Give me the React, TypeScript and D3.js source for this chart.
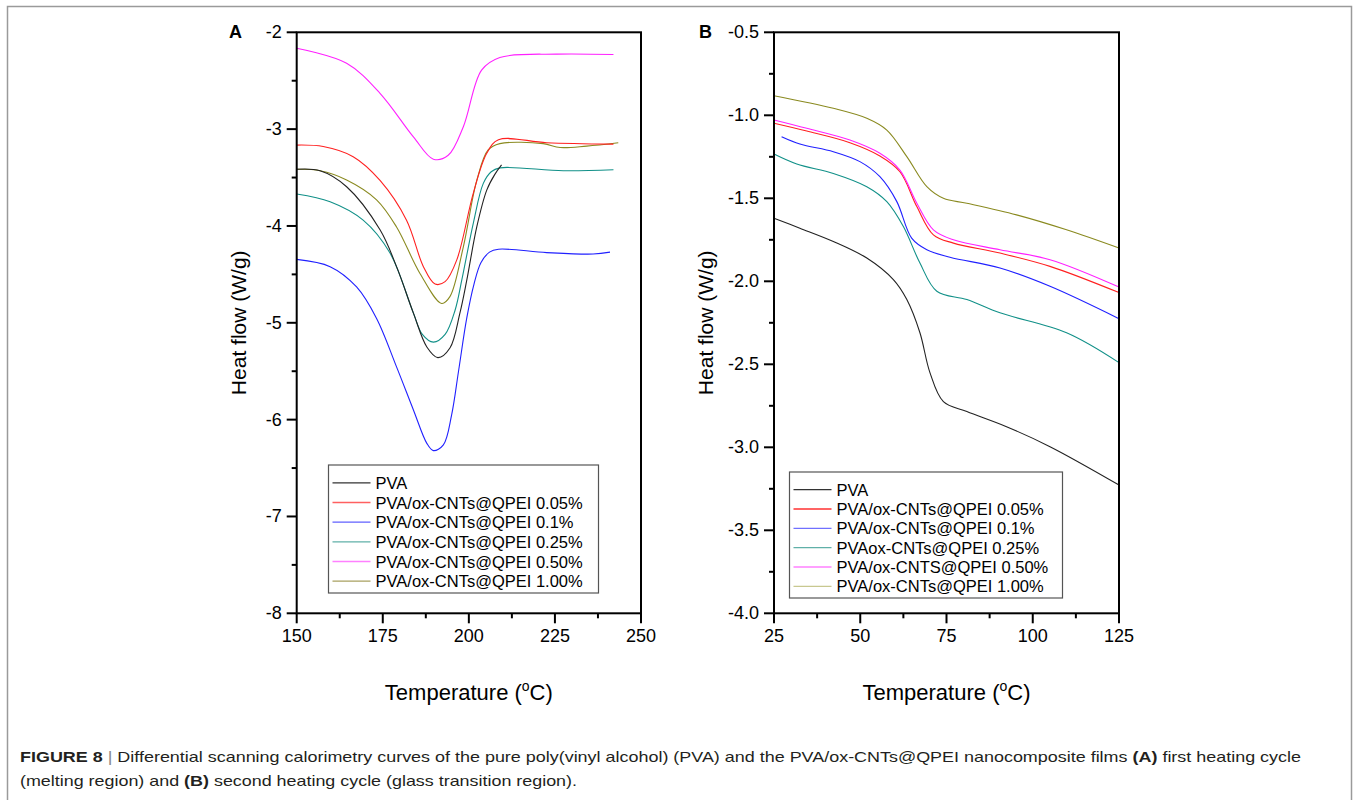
import React from 'react';
import * as d3 from 'd3';

type Pt = [number, number];

// panel A: first heating (melting region)
const meltPVA: Pt[] = [[150, -3.415], [156.8, -3.43], [164.5, -3.595], [174.2, -4.04], [179, -4.42], [183.9, -4.9], [187.8, -5.25], [191, -5.36], [194.5, -5.26], [197.4, -4.9], [199.4, -4.56], [202.3, -4.01], [205.2, -3.63], [207.5, -3.47], [209.5, -3.37]];
const meltC005: Pt[] = [[150, -3.165], [157.7, -3.18], [166.4, -3.285], [174.2, -3.53], [181.9, -3.94], [186.8, -4.42], [190.2, -4.6], [193.1, -4.575], [196.5, -4.35], [201.3, -3.66], [205.2, -3.25], [208.6, -3.11], [222.6, -3.14], [242, -3.155]];
const meltC01: Pt[] = [[150, -4.345], [159.7, -4.42], [167.4, -4.63], [173.2, -4.955], [179, -5.455], [183.9, -5.9], [187.8, -6.245], [189.7, -6.32], [192.6, -6.26], [195, -5.95], [197, -5.5], [199.4, -4.95], [201.5, -4.6], [203.5, -4.38], [206, -4.27], [208.6, -4.24], [222.6, -4.275], [236.1, -4.29], [241, -4.27]];
const meltC025: Pt[] = [[150, -3.67], [159.7, -3.75], [169.3, -3.94], [177.1, -4.28], [183.9, -4.9], [186.5, -5.12], [189.7, -5.2], [193.1, -5.12], [196, -4.87], [198, -4.55], [201.3, -3.97], [204.2, -3.56], [206.5, -3.44], [209, -3.4], [227.4, -3.43], [242, -3.42]];
const meltC050: Pt[] = [[150, -2.165], [164.5, -2.32], [174.2, -2.63], [183.9, -3.08], [189.7, -3.31], [194, -3.27], [198.4, -2.975], [203.7, -2.39], [209, -2.26], [225.5, -2.225], [242, -2.23]];
const meltC100: Pt[] = [[150, -3.415], [156.8, -3.43], [164.5, -3.525], [173.2, -3.73], [179, -4.01], [185.8, -4.49], [192.1, -4.8], [194.5, -4.73], [198.4, -4.215], [202.3, -3.53], [205.6, -3.215], [209, -3.15], [221.6, -3.15], [226.5, -3.19], [234.2, -3.175], [243.4, -3.14]];

// panel B: second heating (glass transition region)
const glassPVA: Pt[] = [[25, -1.62], [32.5, -1.68], [42.2, -1.76], [51.9, -1.86], [59.6, -1.99], [63.5, -2.11], [67.3, -2.31], [70.2, -2.55], [74.1, -2.725], [80.9, -2.785], [92.4, -2.876], [105, -2.996], [125, -3.227]];
const glassC005: Pt[] = [[25, -1.048], [34.5, -1.095], [47, -1.165], [55.7, -1.245], [61.5, -1.34], [66.4, -1.55], [71.2, -1.72], [77, -1.77], [90.5, -1.83], [105, -1.91], [125, -2.068]];
const glassC01: Pt[] = [[27.2, -1.129], [32.5, -1.173], [42.2, -1.219], [49.9, -1.279], [55.7, -1.37], [60.6, -1.52], [64.9, -1.74], [69.3, -1.81], [76, -1.855], [90.5, -1.92], [105, -2.03], [125, -2.225]];
const glassC025: Pt[] = [[25, -1.233], [31.6, -1.293], [42.2, -1.35], [51.9, -1.43], [57.7, -1.52], [62.5, -1.67], [67.3, -1.89], [72.2, -2.06], [80.9, -2.11], [90.5, -2.19], [109.8, -2.31], [125, -2.49]];
const glassC050: Pt[] = [[25, -1.028], [34.5, -1.078], [47, -1.149], [55.7, -1.229], [61.5, -1.33], [66.4, -1.53], [71.2, -1.69], [77, -1.75], [90.5, -1.81], [105, -1.87], [125, -2.035]];
const glassC100: Pt[] = [[25, -0.882], [42.2, -0.958], [51.9, -1.018], [57.7, -1.089], [63.5, -1.249], [69.3, -1.43], [74.1, -1.5], [80.9, -1.53], [95.3, -1.6], [109.8, -1.69], [125, -1.8]];

const colors = ['#222222', '#ff2020', '#2020ff', '#119088', '#ff20ff', '#8a8a20'];
const legendColors = ['#333333', '#ff6060', '#6060ff', '#60b0a8', '#ff80ff', '#a8a060'];
const legendColorsB = ['#333333', '#ff3030', '#7070ff', '#60b0a8', '#ff80ff', '#c8c890'];

const namesA = ['PVA', 'PVA/ox-CNTs@QPEI 0.05%', 'PVA/ox-CNTs@QPEI 0.1%', 'PVA/ox-CNTs@QPEI 0.25%', 'PVA/ox-CNTs@QPEI 0.50%', 'PVA/ox-CNTs@QPEI 1.00%'];
const namesB = ['PVA', 'PVA/ox-CNTs@QPEI 0.05%', 'PVA/ox-CNTs@QPEI 0.1%', 'PVAox-CNTs@QPEI 0.25%', 'PVA/ox-CNTS@QPEI 0.50%', 'PVA/ox-CNTs@QPEI 1.00%'];

const xTicksA = [150, 175, 200, 225, 250];
const yTicksA = [-2, -3, -4, -5, -6, -7, -8];
const xTicksB = [25, 50, 75, 100, 125];
const yTicksB = [-0.5, -1.0, -1.5, -2.0, -2.5, -3.0, -3.5, -4.0];

const FONT = 'Liberation Sans, Arial, sans-serif';

type PanelProps = {
  left: number; right: number; top: number; bottom: number;
  xDomain: [number, number]; yDomain: [number, number];
  xTicks: number[]; yTicks: number[]; xMinor: number; yMinor: number;
  yFmt: (v: number) => string;
  series: Pt[][]; names: string[]; legColors: string[];
  leg: { x: number; y: number; w: number; h: number };
  letter: string; letterX: number; ylabX: number;
};

function Panel(p: PanelProps) {
  const x = d3.scaleLinear().domain(p.xDomain).range([p.left, p.right]);
  const y = d3.scaleLinear().domain(p.yDomain).range([p.top, p.bottom]);
  const line = d3.line<Pt>().x(d => x(d[0])).y(d => y(d[1])).curve(d3.curveCatmullRom.alpha(0.5));

  const xMinorTicks = d3.range(p.xDomain[0], p.xDomain[1] + 1e-9, p.xMinor);
  const yMinorTicks = d3.range(p.yDomain[1], p.yDomain[0] + 1e-9, p.yMinor);

  const order = [3, 5, 1, 4, 2, 0];
  const rowH = (p.leg.h - 10) / p.names.length;

  return (
    <g>
      {order.map(i => (
        <path key={i} d={line(p.series[i]) || ''} fill="none" stroke={colors[i]} strokeWidth={1.1} />
      ))}
      <rect x={p.left} y={p.top} width={p.right - p.left} height={p.bottom - p.top} fill="none" stroke="#000" strokeWidth={2} />
      {xMinorTicks.map((t, i) => (
        <line key={'xm' + i} x1={x(t)} x2={x(t)} y1={p.bottom} y2={p.bottom + (i % 2 === 0 ? 10 : 5)} stroke="#000" strokeWidth={2} />
      ))}
      {yMinorTicks.map((t, i) => (
        <line key={'ym' + i} x1={p.left} x2={p.left - (i % 2 === 0 ? 10 : 5)} y1={y(t)} y2={y(t)} stroke="#000" strokeWidth={2} />
      ))}
      {p.xTicks.map(t => (
        <text key={'xt' + t} x={x(t)} y={p.bottom + 29} textAnchor="middle" fontSize={18} fontFamily={FONT}>{t}</text>
      ))}
      {p.yTicks.map(t => (
        <text key={'yt' + t} x={p.left - 15} y={y(t) + 6} textAnchor="end" fontSize={18} fontFamily={FONT}>{p.yFmt(t)}</text>
      ))}
      <text x={p.letterX} y={p.top + 6} fontSize={18} fontWeight="bold" fontFamily={FONT}>{p.letter}</text>
      <text transform={`translate(${p.ylabX},${(p.top + p.bottom) / 2}) rotate(-90)`} textAnchor="middle" fontSize={21} fontFamily={FONT}>Heat flow (W/g)</text>
      <text x={(p.left + p.right) / 2} y={p.bottom + 87} textAnchor="middle" fontSize={22} fontFamily={FONT}>
        Temperature (<tspan fontSize={14} dy={-9}>o</tspan><tspan dy={9}>C)</tspan>
      </text>
      <rect x={p.leg.x} y={p.leg.y} width={p.leg.w} height={p.leg.h} fill="#fff" stroke="#555" strokeWidth={1.2} />
      {p.names.map((n, i) => {
        const cy = p.leg.y + 8 + rowH * (i + 0.5);
        return (
          <g key={n}>
            <line x1={p.leg.x + 4} x2={p.leg.x + 42} y1={cy} y2={cy} stroke={p.legColors[i]} strokeWidth={1.3} />
            <text x={p.leg.x + 47} y={cy + 6} fontSize={16.5} fontFamily={FONT}>{n}</text>
          </g>
        );
      })}
    </g>
  );
}

export default function App() {
  return (
    <svg width={1359} height={800} style={{ position: 'absolute', left: 0, top: 0, background: '#fff' }}>
      <path d="M7.5,815 V6.5 H1351.5 V815" fill="none" stroke="#9a9a9a" strokeWidth={1.5} />
      <Panel
        left={296.7} right={641} top={32.3} bottom={613.3}
        xDomain={[150, 250]} yDomain={[-2, -8]}
        xTicks={xTicksA} yTicks={yTicksA} xMinor={12.5} yMinor={0.5}
        yFmt={v => String(v)}
        series={[meltPVA, meltC005, meltC01, meltC025, meltC050, meltC100]}
        names={namesA} legColors={legendColors}
        leg={{ x: 328.5, y: 465, w: 270, h: 128 }}
        letter="A" letterX={229} ylabX={246}
      />
      <Panel
        left={774} right={1119} top={32.3} bottom={613.3}
        xDomain={[25, 125]} yDomain={[-0.5, -4]}
        xTicks={xTicksB} yTicks={yTicksB} xMinor={12.5} yMinor={0.25}
        yFmt={v => v.toFixed(1)}
        series={[glassPVA, glassC005, glassC01, glassC025, glassC050, glassC100]}
        names={namesB} legColors={legendColorsB}
        leg={{ x: 789.5, y: 472, w: 273, h: 126 }}
        letter="B" letterX={699} ylabX={713}
      />
      <text x={20} y={762} fontSize={15} fontFamily={FONT} fill="#231f20" textLength={1281} lengthAdjust="spacingAndGlyphs">
        <tspan fontWeight="bold">FIGURE 8</tspan><tspan fill="#888"> | </tspan>Differential scanning calorimetry curves of the pure poly(vinyl alcohol) (PVA) and the PVA/ox-CNTs@QPEI nanocomposite films <tspan fontWeight="bold">(A)</tspan> first heating cycle
      </text>
      <text x={20} y={786} fontSize={15} fontFamily={FONT} fill="#231f20" textLength={557} lengthAdjust="spacingAndGlyphs">
        (melting region) and <tspan fontWeight="bold">(B)</tspan> second heating cycle (glass transition region).
      </text>
    </svg>
  );
}
